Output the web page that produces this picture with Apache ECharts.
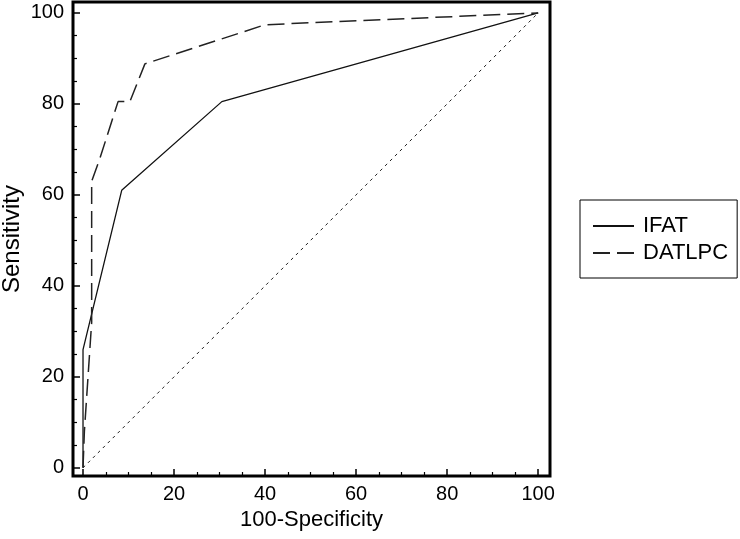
<!DOCTYPE html>
<html>
<head>
<meta charset="utf-8">
<script src="https://cdn.jsdelivr.net/npm/echarts@6/dist/echarts.min.js"></script>
<style>
html,body{margin:0;padding:0;background:#fff;}
#c{width:740px;height:539px;}
</style>
</head>
<body>
<div id="c"></div>
<script>
// Data
const ifatX = [0, 0, 8.5, 30.5, 100];
const ifatY = [0, 26, 61, 80.5, 100];
const datlpcX = [0, 0.3, 1.5, 1.9, 1.9, 3.7, 7.7, 10.3, 13.6, 40, 100];
const datlpcY = [0, 8, 26, 32, 63, 68, 80.5, 80.5, 88.8, 97.4, 100];
const refX = [0, 100];
const refY = [0, 100];
const majorTicks = [0, 20, 40, 60, 80, 100];
const minorTicks = [5, 10, 15, 25, 30, 35, 45, 50, 55, 65, 70, 75, 85, 90, 95];
const seriesNames = ['IFAT', 'DATLPC'];

const zip = (xs, ys) => xs.map((x, i) => [x, ys[i]]);
const FONT = '"Liberation Sans", Arial, sans-serif';

function majorAxis(isX, extra) {
  return Object.assign({
    type: 'value',
    gridIndex: 0,
    min: isX ? -2.2 : -1.8,
    max: isX ? 102.6 : 102.4,
    splitLine: { show: false },
    axisLine: { show: false, onZero: false },
    axisTick: { show: true, inside: true, length: 7, customValues: majorTicks,
      lineStyle: { color: '#000', width: 1.5 } },
    axisLabel: { show: true, customValues: majorTicks, fontSize: 20, color: '#000',
      fontFamily: FONT, margin: isX ? 8 : 9 }
  }, extra);
}
function minorAxis(isX) {
  return {
    type: 'value',
    gridIndex: 0,
    min: isX ? -2.2 : -1.8,
    max: isX ? 102.6 : 102.4,
    position: isX ? 'bottom' : 'left',
    splitLine: { show: false },
    axisLine: { show: false, onZero: false },
    axisTick: { show: true, inside: true, length: 4, customValues: minorTicks,
      lineStyle: { color: '#000', width: 1.2 } },
    axisLabel: { show: false }
  };
}

const chart = echarts.init(document.getElementById('c'), null, { renderer: 'canvas' });
chart.setOption({
  animation: false,
  backgroundColor: '#fff',
  grid: {
    left: 73, top: 2, width: 477, height: 474,
    containLabel: false, outerBoundsMode: 'none',
    show: true, borderColor: '#000', borderWidth: 3, backgroundColor: 'transparent'
  },
  legend: {
    data: seriesNames,
    orient: 'vertical',
    left: 580, top: 200,
    borderColor: '#000', borderWidth: 1, borderRadius: 0,
    padding: [15, 9, 14, 12],
    itemWidth: 41, itemHeight: 14, itemGap: 5,
    itemStyle: { opacity: 0 },
    textStyle: { fontSize: 22, color: '#000', fontFamily: FONT, padding: [0, 0, 0, 4] }
  },
  xAxis: [
    majorAxis(true, { position: 'bottom', name: '100-Specificity', nameLocation: 'middle',
      nameGap: 31, nameTextStyle: { fontSize: 22, color: '#000', fontFamily: FONT } }),
    minorAxis(true)
  ],
  yAxis: [
    majorAxis(false, { position: 'left', name: 'Sensitivity', nameLocation: 'middle',
      nameGap: 49, nameMoveOverlap: false,
      nameTextStyle: { fontSize: 24, color: '#000', fontFamily: FONT } }),
    minorAxis(false)
  ],
  series: [
    {
      name: 'IFAT', type: 'line', xAxisIndex: 0, yAxisIndex: 0,
      data: zip(ifatX, ifatY), symbol: 'none', showSymbol: false,
      lineStyle: { color: '#111', width: 1.3, type: 'solid' },
      itemStyle: { color: '#111' }
    },
    {
      name: 'DATLPC', type: 'line', xAxisIndex: 0, yAxisIndex: 0,
      data: zip(datlpcX, datlpcY), symbol: 'none', showSymbol: false,
      lineStyle: { color: '#222', width: 1.5, type: [17, 7] },
      itemStyle: { color: '#222' }
    },
    {
      name: 'ref', type: 'line', xAxisIndex: 0, yAxisIndex: 0,
      data: zip(refX, refY), symbol: 'none', showSymbol: false, silent: true,
      lineStyle: { color: '#222', width: 1, type: [3, 4] }
    }
  ]
});
</script>
</body>
</html>
